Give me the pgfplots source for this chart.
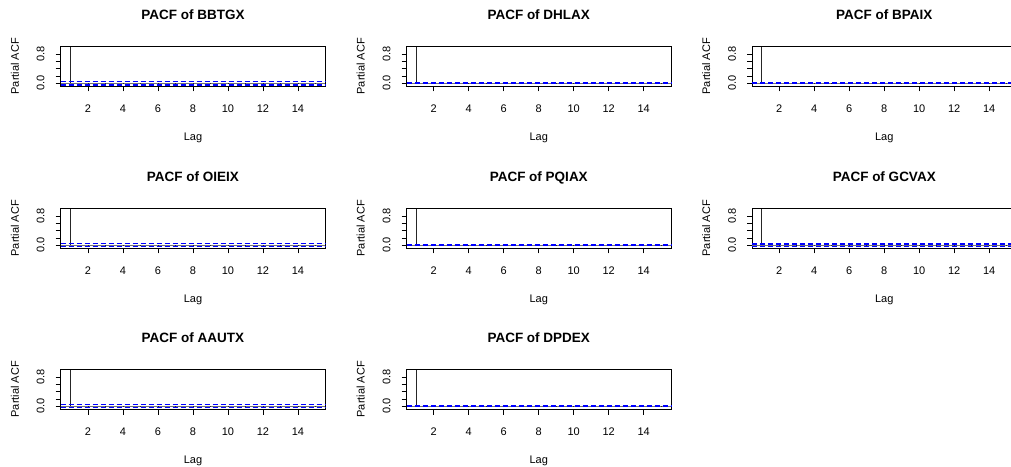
\documentclass[border=0pt]{standalone}
\usepackage{pgfplots}
\pgfplotsset{compat=1.18}
\usepackage{fontspec}
\setmainfont{Liberation Sans}
\pgfplotsset{panel/.style={
  scale only axis, width=264.5pt, height=40.5pt,
  anchor=south west,
  xmin=0.44, xmax=15.56, ymin=-0.09, ymax=1.02,
  xtick={2,4,...,14}, ytick={0,0.2,0.4,0.6,0.8}, yticklabels={0.0,,,,0.8},
  /pgf/number format/assume math mode=true,
  tick align=outside, xtick pos=left, ytick pos=left,
  major tick length=5pt,
  tick style={black, line width=0.6pt},
  axis line style={line width=0.7pt},
  tick label style={font=\fontsize{11}{13}\selectfont},
  label style={font=\fontsize{11}{13}\selectfont},
  title style={font=\bfseries\fontsize{13.5}{16}\selectfont, at={(axis description cs:0.5,1.583)}, anchor=center, text height=10pt, text depth=3pt},
  xlabel={Lag}, ylabel={Partial ACF},
  xlabel style={at={(axis description cs:0.5,-1.27)}, anchor=center},
  ylabel style={at={(axis description cs:-0.173,0.5)}, anchor=center},
  xticklabel style={anchor=center, yshift=-17pt},
  yticklabel style={xshift=-15pt, rotate=90, anchor=center},
  clip=false,
}}
\newcommand{\pacfpanel}[5]{%
\begin{axis}[panel, at={(#1pt,#2pt)}, title={PACF of #3}]
\addplot[black!55, line width=0.4pt] coordinates {(0.44,0) (15.56,0)};
\addplot[ycomb, black!85, line width=0.8pt, mark=none] coordinates {#5};
\addplot[blue, line width=1.3pt, dash pattern=on 5pt off 3pt] coordinates {(0.44,#4) (15.56,#4)};
\addplot[blue, line width=1.3pt, dash pattern=on 5pt off 3pt] coordinates {(0.44,-#4) (15.56,-#4)};
\end{axis}}
\begin{document}
\begin{tikzpicture}
\useasboundingbox (0,0) rectangle (1011pt,466pt);
\fill[white] (0,0) rectangle (1011pt,466pt);
\pacfpanel{60.7}{379.5}{BBTGX}{0.045}{(1,0.985) (2,-0.01) (3,0.005) (4,-0.008) (5,0.004) (6,-0.005) (7,0.01) (8,-0.006) (9,0.008) (10,-0.004) (11,0.012) (12,-0.006) (13,0.007) (14,-0.005) (15,0.004)}
\pacfpanel{406.5}{379.5}{DHLAX}{0.012}{(1,0.985) (2,0.004) (3,-0.003) (4,0.002) (5,-0.004) (6,0.003) (7,-0.002) (8,0.004) (9,-0.003) (10,0.002) (11,-0.002) (12,0.003) (13,-0.002) (14,0.002) (15,-0.003)}
\pacfpanel{752}{379.5}{BPAIX}{0.012}{(1,0.985) (2,0.003) (3,-0.004) (4,0.002) (5,0.004) (6,-0.003) (7,0.002) (8,-0.002) (9,0.003) (10,-0.004) (11,0.002) (12,-0.003) (13,0.002) (14,-0.002) (15,0.003)}
\pacfpanel{60.7}{217.5}{OIEIX}{0.04}{(1,0.985) (2,-0.006) (3,0.005) (4,-0.004) (5,0.006) (6,-0.005) (7,0.004) (8,-0.006) (9,0.012) (10,-0.005) (11,0.012) (12,-0.004) (13,0.01) (14,-0.006) (15,0.005)}
\pacfpanel{406.5}{217.5}{PQIAX}{0.012}{(1,0.985) (2,0.006) (3,0.008) (4,-0.003) (5,0.004) (6,-0.002) (7,0.003) (8,-0.004) (9,0.002) (10,-0.003) (11,0.002) (12,-0.002) (13,0.003) (14,-0.002) (15,0.002)}
\pacfpanel{752}{217.5}{GCVAX}{0.035}{(1,0.99) (2,-0.006) (3,0.012) (4,-0.005) (5,0.006) (6,-0.004) (7,0.005) (8,-0.006) (9,0.004) (10,0.01) (11,-0.005) (12,0.006) (13,-0.004) (14,0.005) (15,-0.006)}
\pacfpanel{60.7}{56.5}{AAUTX}{0.04}{(1,0.985) (2,-0.008) (3,0.006) (4,-0.005) (5,0.008) (6,-0.006) (7,0.005) (8,0.012) (9,-0.005) (10,0.012) (11,-0.004) (12,0.006) (13,-0.005) (14,0.004) (15,0.008)}
\pacfpanel{406.5}{56.5}{DPDEX}{0.01}{(1,0.995) (2,0.005) (3,0.006) (4,-0.003) (5,0.002) (6,-0.002) (7,0.003) (8,-0.002) (9,-0.015) (10,0.002) (11,-0.002) (12,0.003) (13,-0.002) (14,0.002) (15,-0.002)}
\end{tikzpicture}
\end{document}
